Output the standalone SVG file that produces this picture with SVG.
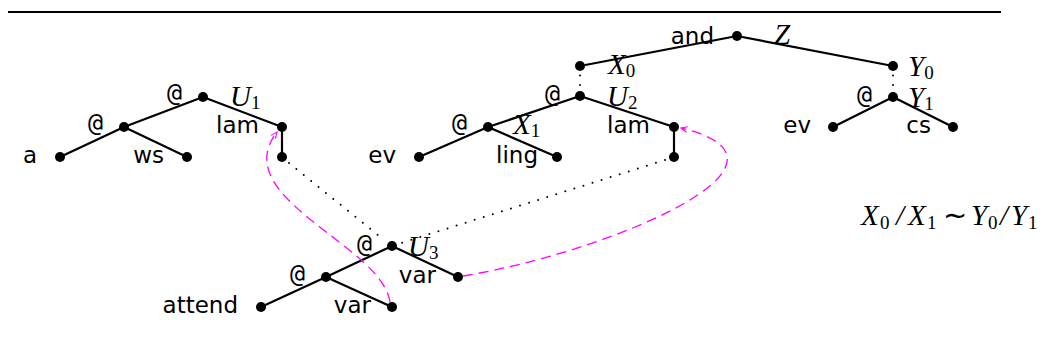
<svg xmlns="http://www.w3.org/2000/svg" width="1045" height="360" viewBox="0 0 1045 360">
<style>
.e{stroke:#000;stroke-width:2.2;fill:none}
.d{stroke:#000;stroke-width:2;fill:none;stroke-dasharray:0 9.5;stroke-linecap:round}
.mg{stroke:#ff00ff;stroke-width:1.3;fill:none;stroke-dasharray:10 6}
.n{fill:#000}
.t{font-family:"DejaVu Sans",sans-serif;font-size:23px;fill:#000;text-anchor:end}
.at{font-family:"DejaVu Sans Mono",monospace;font-size:25px;fill:#000;text-anchor:end}
.m{font-family:"Liberation Serif",serif;font-style:italic;font-size:29px;fill:#000}
.s{font-style:normal;font-size:19px}
</style>
<defs>
<marker id="ah" viewBox="0 0 10 10" refX="9" refY="5" markerWidth="8" markerHeight="8" markerUnits="userSpaceOnUse" orient="auto">
<path d="M1,1.5 L9,5 L1,8.5" fill="none" stroke="#ff00ff" stroke-width="1.3"/>
</marker>
</defs>
<line x1="8" y1="12" x2="1001" y2="12" stroke="#000" stroke-width="2.2"/>
<g id="connectors">
<line class="e" x1="203" y1="97" x2="124" y2="127"/>
<line class="e" x1="203" y1="97" x2="282" y2="127"/>
<line class="e" x1="124" y1="127" x2="60" y2="157"/>
<line class="e" x1="124" y1="127" x2="187" y2="157"/>
<line class="e" x1="282" y1="127" x2="282" y2="157"/>
<line class="e" x1="737" y1="36" x2="580" y2="66"/>
<line class="e" x1="737" y1="36" x2="893" y2="66"/>
<line class="d" x1="580" y1="75.5" x2="580" y2="88"/>
<line class="d" x1="893" y1="75.5" x2="893" y2="88"/>
<line class="e" x1="580" y1="96" x2="488" y2="127"/>
<line class="e" x1="580" y1="96" x2="674" y2="127"/>
<line class="e" x1="488" y1="127" x2="419" y2="157"/>
<line class="e" x1="488" y1="127" x2="557" y2="157"/>
<line class="e" x1="674" y1="127" x2="674" y2="157"/>
<line class="e" x1="893" y1="97" x2="833" y2="127"/>
<line class="e" x1="893" y1="97" x2="953" y2="127"/>
<line class="e" x1="392" y1="246" x2="326" y2="277"/>
<line class="e" x1="392" y1="246" x2="458" y2="277"/>
<line class="e" x1="326" y1="277" x2="261" y2="307"/>
<line class="e" x1="326" y1="277" x2="392" y2="307"/>
<line class="d" x1="289" y1="163" x2="384" y2="240"/>
<line class="d" x1="665" y1="160" x2="401" y2="243"/>
<path class="mg" d="M390,302 C382,245 226,198 277,132" marker-end="url(#ah)"/>
<path class="mg" d="M463,276 C610,252 822,162 681,128" marker-end="url(#ah)"/>
</g>
<g id="tree1">
<circle class="n" cx="203" cy="97" r="5"/><text class="at" x="182" y="101">@</text>
<circle class="n" cx="124" cy="127" r="5"/><text class="at" x="103" y="131">@</text>
<circle class="n" cx="60" cy="157" r="5"/><text class="t" x="37" y="163">a</text>
<circle class="n" cx="187" cy="157" r="5"/><text class="t" x="164" y="163">ws</text>
<circle class="n" cx="282" cy="127" r="5"/><text class="t" x="259" y="133">lam</text>
<circle class="n" cx="282" cy="157" r="5"/>
<text class="m" x="230" y="106">U<tspan class="s" dy="3">1</tspan></text>
</g>
<g id="tree2">
<circle class="n" cx="737" cy="36" r="5"/><text class="t" x="714" y="44">and</text>
<text class="m" x="774" y="44">Z</text>
<circle class="n" cx="580" cy="66" r="5"/>
<text class="m" x="608" y="74">X<tspan class="s" dy="3">0</tspan></text>
<circle class="n" cx="580" cy="96" r="5"/><text class="at" x="560" y="102">@</text>
<text class="m" x="607" y="106">U<tspan class="s" dy="3">2</tspan></text>
<circle class="n" cx="488" cy="127" r="5"/><text class="at" x="467" y="131">@</text>
<text class="m" x="513" y="134">X<tspan class="s" dy="3">1</tspan></text>
<circle class="n" cx="419" cy="157" r="5"/><text class="t" x="396" y="163">ev</text>
<circle class="n" cx="557" cy="157" r="5"/><text class="t" x="538" y="163">ling</text>
<circle class="n" cx="674" cy="127" r="5"/><text class="t" x="650" y="133">lam</text>
<circle class="n" cx="674" cy="157" r="5"/>
</g>
<g id="tree3">
<circle class="n" cx="893" cy="66" r="5"/>
<text class="m" x="908" y="76">Y<tspan class="s" dy="3">0</tspan></text>
<circle class="n" cx="893" cy="97" r="5"/><text class="at" x="872" y="103">@</text>
<text class="m" x="908" y="107">Y<tspan class="s" dy="3">1</tspan></text>
<circle class="n" cx="833" cy="127" r="5"/><text class="t" x="811" y="133">ev</text>
<circle class="n" cx="953" cy="127" r="5"/><text class="t" x="931" y="133">cs</text>
</g>
<g id="tree4">
<circle class="n" cx="392" cy="246" r="5"/><text class="at" x="372" y="252">@</text>
<text class="m" x="408" y="256">U<tspan class="s" dy="3">3</tspan></text>
<circle class="n" cx="458" cy="277" r="5"/><text class="t" x="436" y="283">var</text>
<circle class="n" cx="326" cy="277" r="5"/><text class="at" x="305" y="282">@</text>
<circle class="n" cx="261" cy="307" r="5"/><text class="t" x="238" y="313">attend</text>
<circle class="n" cx="392" cy="307" r="5"/><text class="t" x="371" y="313">var</text>
</g>
<g id="formula">
<text class="m" y="225"><tspan x="861">X</tspan><tspan class="s" x="880" dy="4">0</tspan><tspan x="896" dy="-4">/</tspan><tspan x="908">X</tspan><tspan class="s" x="927" dy="4">1</tspan><tspan x="943" dy="-4" style="font-style:normal">∼</tspan><tspan x="971">Y</tspan><tspan class="s" x="988" dy="4">0</tspan><tspan x="1000" dy="-4">/</tspan><tspan x="1011">Y</tspan><tspan class="s" x="1028" dy="4">1</tspan></text>
</g>
</svg>
